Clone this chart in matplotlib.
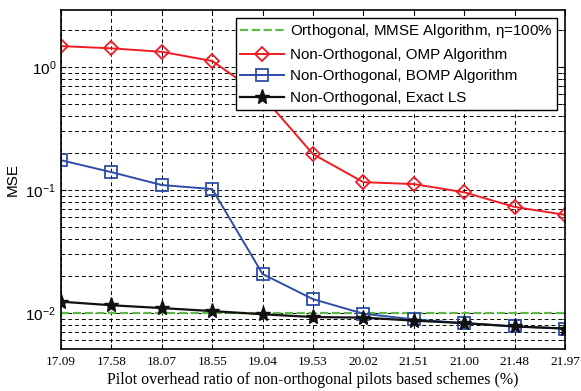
import numpy as np
import matplotlib
matplotlib.use("Agg")
import matplotlib.pyplot as plt
from matplotlib.ticker import LogLocator, NullFormatter

# tick labels as printed on the original figure
overhead = ["17.09", "17.58", "18.07", "18.55", "19.04", "19.53",
            "20.02", "21.51", "21.00", "21.48", "21.97"]

mse_mmse = [0.0100] * 11
mse_omp = [1.48, 1.42, 1.33, 1.12, 0.58, 0.196, 0.116, 0.112, 0.096, 0.073, 0.063]
mse_bomp = [0.175, 0.140, 0.110, 0.102, 0.0208, 0.0130, 0.0099, 0.0089, 0.0083, 0.0078, 0.0075]
mse_ls = [0.0124, 0.0116, 0.0110, 0.0104, 0.0098, 0.0093, 0.0092, 0.0087, 0.0083, 0.0078, 0.0075]

plt.rcParams['font.family'] = ['Liberation Sans', 'DejaVu Sans']
plt.rcParams['mathtext.default'] = 'regular'

fig = plt.figure(figsize=(5.81, 3.91), dpi=100)
ax = fig.add_axes([0.105, 0.107, 0.8675, 0.867])

x = np.arange(len(overhead))

ax.plot(x, mse_mmse, '--', color='#5cb944', lw=1.6,
        label=r'Orthogonal, MMSE Algorithm, $\eta$=100%')
ax.plot(x, mse_omp, '-', color='#f01c24', lw=1.4, marker='D', ms=7,
        mfc='none', mec='#f01c24', mew=1.3, label='Non-Orthogonal, OMP Algorithm')
ax.plot(x, mse_bomp, '-', color='#2e4da6', lw=1.4, marker='s', ms=8,
        mfc='none', mec='#2e4da6', mew=1.3, label='Non-Orthogonal, BOMP Algorithm')
ax.plot(x, mse_ls, '-', color='#111111', lw=1.6, marker='*', ms=11,
        mfc='#111111', mec='#111111', label='Non-Orthogonal, Exact LS')

ax.set_yscale('log')
ax.set_ylim(0.0051, 2.9)
ax.set_xlim(0, 10)
ax.yaxis.set_major_locator(LogLocator(base=10, numticks=10))
ax.yaxis.set_minor_locator(LogLocator(base=10, subs=np.arange(2, 10), numticks=20))
ax.yaxis.set_minor_formatter(NullFormatter())

ax.set_xticks(x)
ax.set_xticklabels(overhead, family=['Liberation Serif', 'DejaVu Serif'], fontsize=9.5)
ax.tick_params(axis='y', labelsize=11)
ax.tick_params(which='both', direction='in', top=True, right=True)
ax.tick_params(axis='x', pad=5)

ax.grid(True, which='major', ls='--', color='black', lw=0.7, dashes=(4, 3))
ax.grid(True, which='minor', axis='y', ls='--', color='black', lw=0.7, dashes=(4, 3))
for s in ax.spines.values():
    s.set_linewidth(1.2)

ax.set_ylabel('MSE', fontsize=11, labelpad=4)
ax.set_xlabel('Pilot overhead ratio of non-orthogonal pilots based schemes (%)',
              family=['Liberation Serif', 'DejaVu Serif'], fontsize=11.5, labelpad=3)

leg = ax.legend(loc='upper right', fontsize=10.9, handlelength=2.9, handletextpad=0.4,
                fancybox=False, framealpha=1, edgecolor='black', borderaxespad=0.5,
                labelspacing=0.5, borderpad=0.3)
leg.get_frame().set_linewidth(1.0)

fig.savefig('out.png', dpi=100)
